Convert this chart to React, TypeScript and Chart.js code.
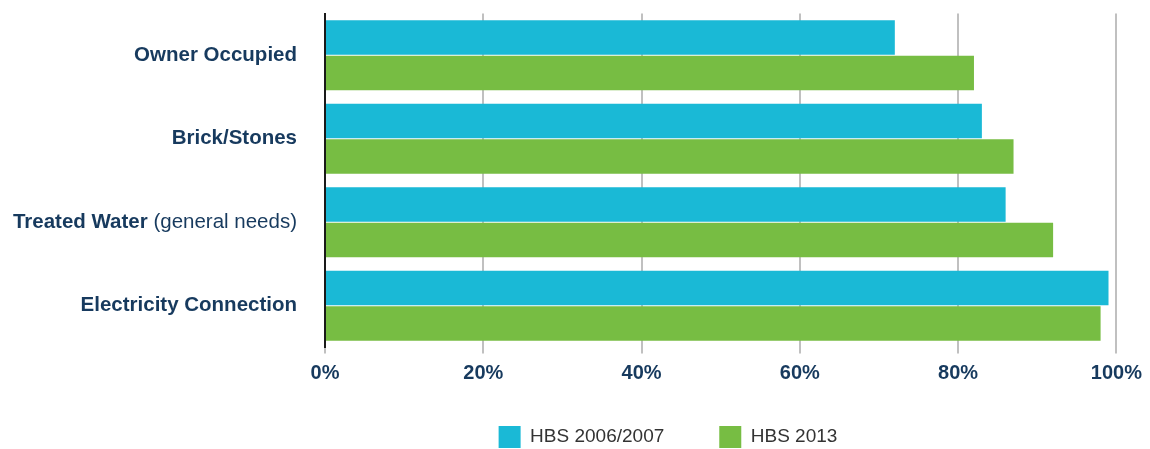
import React, { useEffect, useRef } from "react";
import { Chart, registerables } from "chart.js";

Chart.register(...registerables);

const categories = [
  "Owner Occupied",
  "Brick/Stones",
  "Treated Water (general needs)",
  "Electricity Connection",
];
const seriesNames = ["HBS 2006/2007", "HBS 2013"];
const hbs2006 = [72, 83, 86, 99];
const hbs2013 = [82, 87, 92, 98];
const xMin = 0;
const xMax = 100;
const xStep = 20;

const NAVY = "#173a5e";
const BLUE = "#1ab9d6";
const GREEN = "#77bd43";
const FONT = "'Liberation Sans', Arial, Helvetica, sans-serif";
const LEGEND_PADDING = 55;

const yLabelPlugin = {
  id: "yLabelsMixed",
  afterDraw(chart: any) {
    const ctx = chart.ctx;
    const yScale = chart.scales.y;
    const right = chart.chartArea.left - 28;
    ctx.save();
    ctx.fillStyle = NAVY;
    ctx.textBaseline = "middle";
    ctx.textAlign = "right";
    categories.forEach((label, i) => {
      const py = yScale.getPixelForTick(i);
      const idx = label.indexOf("(");
      const bold = idx >= 0 ? label.slice(0, idx) : label;
      const normal = idx >= 0 ? label.slice(idx) : "";
      let x = right;
      if (normal) {
        ctx.font = `400 20.5px ${FONT}`;
        ctx.fillText(normal, x, py);
        x -= ctx.measureText(normal).width;
      }
      ctx.font = `700 20.5px ${FONT}`;
      ctx.fillText(bold, x, py);
    });
    ctx.restore();
  },
};

const legendShiftPlugin = {
  id: "legendShift",
  afterLayout(chart: any) {
    const l = chart.legend;
    if (!l) return;
    const dx = 668 - (l.left + l.right) / 2;
    const dy = 426 - (l.top + LEGEND_PADDING);
    l.left += dx;
    l.right += dx;
    l.top += dy;
  },
};

export default function App() {
  const ref = useRef<HTMLCanvasElement | null>(null);

  useEffect(() => {
    if (!ref.current) return;
    const chart = new Chart(ref.current, {
      type: "bar",
      data: {
        labels: categories,
        datasets: [
          {
            label: seriesNames[0],
            data: hbs2006,
            backgroundColor: BLUE,
            borderWidth: 0,
            barPercentage: 0.97,
            categoryPercentage: 0.85,
          },
          {
            label: seriesNames[1],
            data: hbs2013,
            backgroundColor: GREEN,
            borderWidth: 0,
            barPercentage: 0.97,
            categoryPercentage: 0.85,
          },
        ],
      },
      options: {
        indexAxis: "y",
        responsive: true,
        maintainAspectRatio: false,
        animation: false,
        layout: { padding: { top: 13.5, right: 33, left: 0, bottom: 0 } },
        plugins: {
          tooltip: { enabled: false },
          legend: {
            position: "bottom",
            align: "center",
            maxHeight: 61.5,
            labels: {
              boxWidth: 22,
              boxHeight: 22,
              padding: LEGEND_PADDING,
              color: "#333333",
              font: { family: FONT, size: 19, weight: "400" },
            },
          },
        },
        scales: {
          x: {
            min: xMin,
            max: xMax,
            afterFit: (s: any) => {
              s.height = 40;
            },
            ticks: {
              stepSize: xStep,
              padding: 8,
              color: NAVY,
              font: { family: FONT, size: 20, weight: "700" },
              callback: (v: any) => `${v}%`,
            },
            grid: {
              color: "#c0c0c0",
              lineWidth: 2,
              tickLength: 6,
              drawOnChartArea: true,
            },
            border: { display: false },
          },
          y: {
            afterFit: (s: any) => {
              s.width = 325;
            },
            ticks: { display: false },
            grid: { display: false },
            border: { display: true, color: "#1a1a1a", width: 2 },
          },
        },
      },
      plugins: [yLabelPlugin, legendShiftPlugin],
    });
    return () => chart.destroy();
  }, []);

  return (
    <div
      style={{
        position: "fixed",
        left: 0,
        top: 0,
        width: 1150,
        height: 449,
        overflow: "hidden",
        background: "#ffffff",
      }}
    >
      <canvas ref={ref} />
    </div>
  );
}
